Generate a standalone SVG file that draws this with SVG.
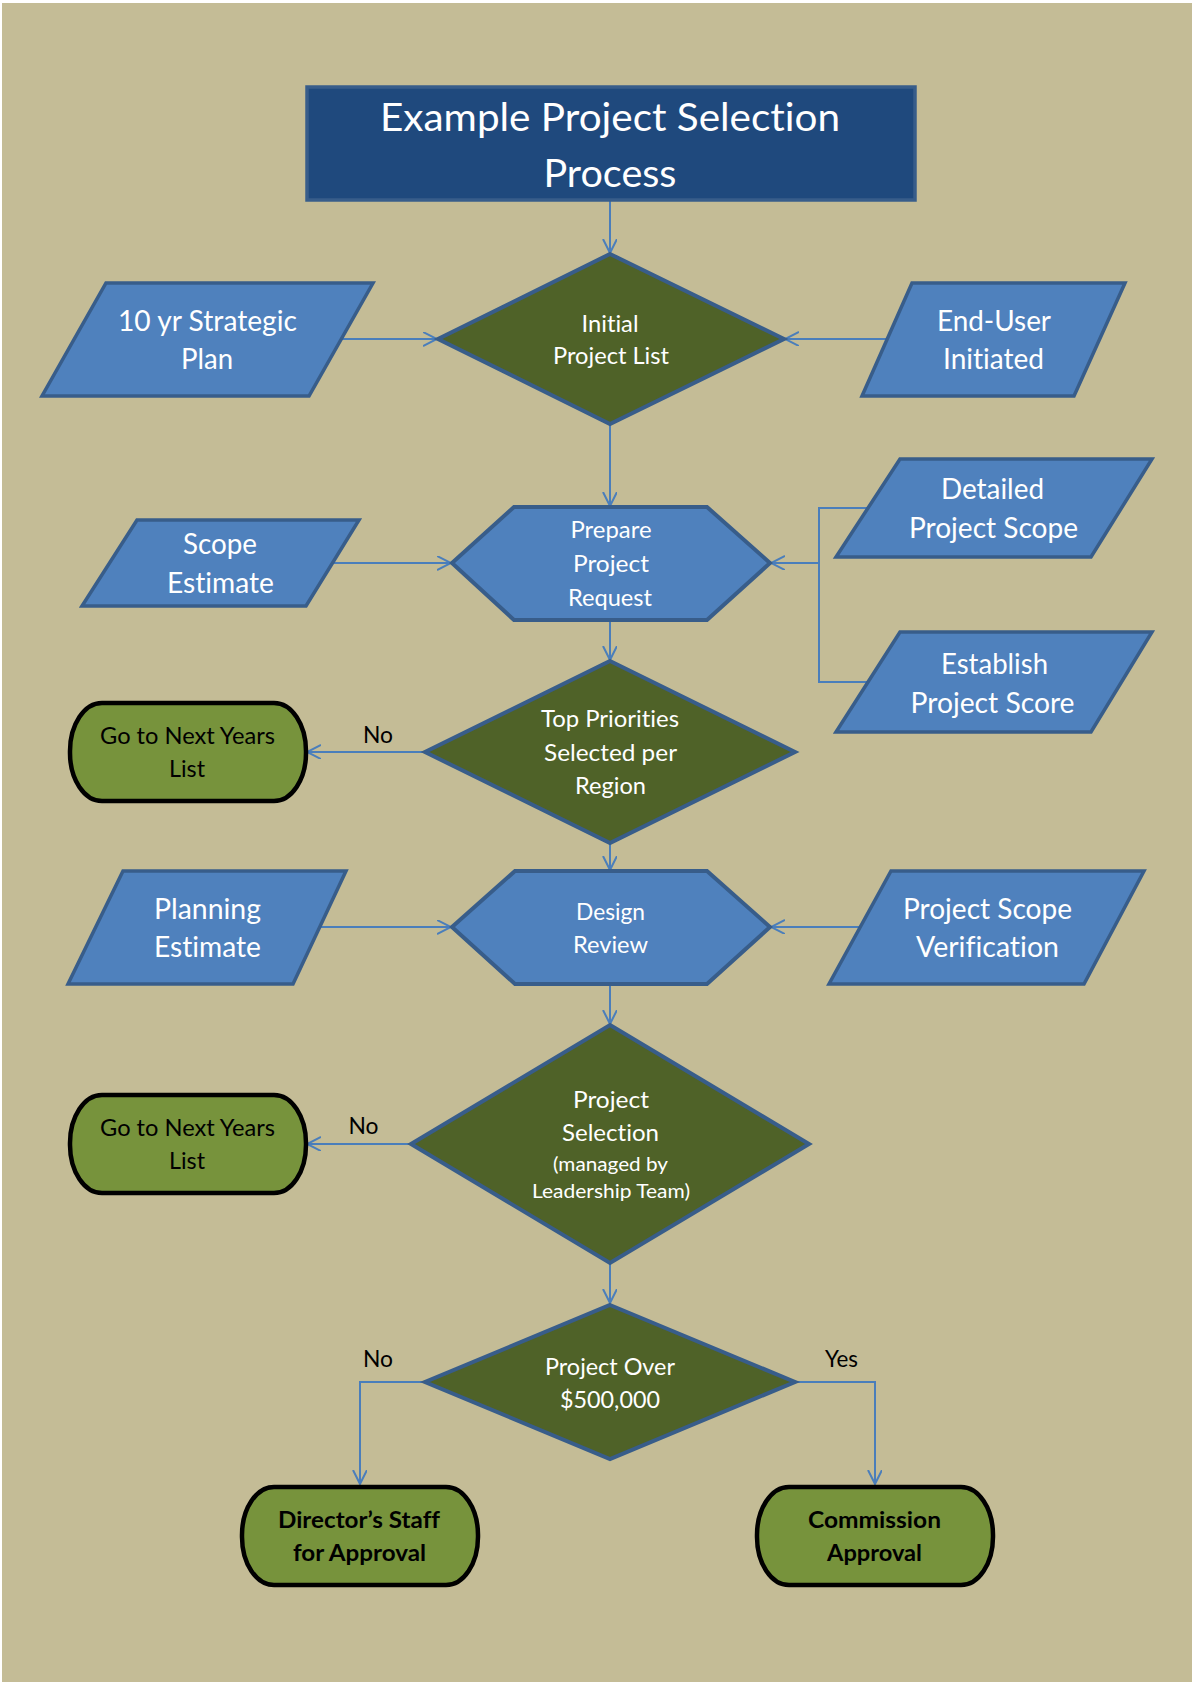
<svg xmlns="http://www.w3.org/2000/svg" width="1192" height="1682" viewBox="0 0 1192 1682">
<defs>
<style>
.io{fill:#4F81BD;stroke:#385D8A;stroke-width:3.5;stroke-linejoin:miter}
.dec{fill:#4F6228;stroke:#385D8A;stroke-width:4}
.hex{fill:#4F81BD;stroke:#385D8A;stroke-width:4}
.term{fill:#77933C;stroke:#000;stroke-width:4.5}
.c{fill:none;stroke:#4A7EBB;stroke-width:2}
text{font-family:Lato,"Open Sans","Liberation Sans",sans-serif;text-anchor:middle;font-variant-ligatures:none;font-feature-settings:"liga" 0,"clig" 0}
.w{fill:#fff}
.k{fill:#000}
.b{font-weight:bold}
</style>
<marker id="ah" markerUnits="userSpaceOnUse" markerWidth="16" markerHeight="16" refX="14" refY="7" orient="auto">
<path d="M0,0 L14,7 L0,14" fill="none" stroke="#4A7EBB" stroke-width="2"/>
</marker>
</defs>
<rect x="0" y="0" width="1192" height="1682" fill="#fff"/>
<rect x="2" y="3" width="1190" height="1679" fill="#C4BC96"/>

<g id="connectors">
<path class="c" d="M610,201 V253" marker-end="url(#ah)"/>
<path class="c" d="M341,339 H437" marker-end="url(#ah)"/>
<path class="c" d="M887,339 H785" marker-end="url(#ah)"/>
<path class="c" d="M610,424 V506" marker-end="url(#ah)"/>
<path class="c" d="M333,563 H451" marker-end="url(#ah)"/>
<path class="c" d="M868,508 H819 V682 H868"/>
<path class="c" d="M819,563 H771" marker-end="url(#ah)"/>
<path class="c" d="M610,620 V660" marker-end="url(#ah)"/>
<path class="c" d="M425,752 H307" marker-end="url(#ah)"/>
<path class="c" d="M610,843 V870" marker-end="url(#ah)"/>
<path class="c" d="M320,927 H451" marker-end="url(#ah)"/>
<path class="c" d="M860,927 H771" marker-end="url(#ah)"/>
<path class="c" d="M610,984 V1024" marker-end="url(#ah)"/>
<path class="c" d="M411,1144 H307" marker-end="url(#ah)"/>
<path class="c" d="M610,1263 V1303" marker-end="url(#ah)"/>
<path class="c" d="M425,1382 H360 V1484" marker-end="url(#ah)"/>
<path class="c" d="M795,1382 H875 V1484" marker-end="url(#ah)"/>
</g>

<g id="title">
<rect x="307" y="87" width="608" height="113" fill="#1F497D" stroke="#385D8A" stroke-width="3.5"/>
<text class="w" x="610" y="131" font-size="39" textLength="460" lengthAdjust="spacingAndGlyphs">Example Project Selection</text>
<text class="w" x="610" y="187" font-size="39" textLength="133" lengthAdjust="spacingAndGlyphs">Process</text>
</g>

<g id="initial-project-list">
<polygon class="dec" points="610,254 784,339 610,424 438,339"/>
<text class="w" x="610" y="332" font-size="22.5" textLength="57" lengthAdjust="spacingAndGlyphs">Initial</text>
<text class="w" x="611" y="364" font-size="22.5" textLength="116" lengthAdjust="spacingAndGlyphs">Project List</text>
</g>

<g id="strategic-plan">
<polygon class="io" points="106,283 373,283 309,396 42,396"/>
<text class="w" x="207.5" y="331" font-size="28" textLength="179" lengthAdjust="spacingAndGlyphs">10 yr Strategic</text>
<text class="w" x="207" y="369" font-size="28" textLength="52" lengthAdjust="spacingAndGlyphs">Plan</text>
</g>

<g id="end-user">
<polygon class="io" points="912,283 1125,283 1074,396 862,396"/>
<text class="w" x="994" y="331" font-size="28" textLength="114" lengthAdjust="spacingAndGlyphs">End-User</text>
<text class="w" x="993.5" y="369" font-size="28" textLength="101" lengthAdjust="spacingAndGlyphs">Initiated</text>
</g>

<g id="prepare-request">
<polygon class="hex" points="452,563 514,507 707,507 770,563 707,620 514,620"/>
<text class="w" x="611" y="538" font-size="22.5" textLength="81" lengthAdjust="spacingAndGlyphs">Prepare</text>
<text class="w" x="611" y="572" font-size="22.5" textLength="76" lengthAdjust="spacingAndGlyphs">Project</text>
<text class="w" x="610" y="606" font-size="22.5" textLength="84" lengthAdjust="spacingAndGlyphs">Request</text>
</g>

<g id="scope-estimate">
<polygon class="io" points="137,520 359,520 306,606 82,606"/>
<text class="w" x="220" y="554" font-size="28" textLength="74" lengthAdjust="spacingAndGlyphs">Scope</text>
<text class="w" x="220.5" y="593" font-size="28" textLength="107" lengthAdjust="spacingAndGlyphs">Estimate</text>
</g>

<g id="detailed-scope">
<polygon class="io" points="900,459 1152,459 1091,557 836,557"/>
<text class="w" x="992.5" y="499" font-size="28" textLength="103" lengthAdjust="spacingAndGlyphs">Detailed</text>
<text class="w" x="993.5" y="538" font-size="28" textLength="169" lengthAdjust="spacingAndGlyphs">Project Scope</text>
</g>

<g id="project-score">
<polygon class="io" points="900,632 1152,632 1091,732 836,732"/>
<text class="w" x="994.5" y="674" font-size="28" textLength="107" lengthAdjust="spacingAndGlyphs">Establish</text>
<text class="w" x="992.5" y="713" font-size="28" textLength="164" lengthAdjust="spacingAndGlyphs">Project Score</text>
</g>

<g id="top-priorities">
<polygon class="dec" points="610,661 795,752 610,843 425,752"/>
<text class="w" x="610" y="727" font-size="22.5" textLength="138" lengthAdjust="spacingAndGlyphs">Top Priorities</text>
<text class="w" x="610.5" y="761" font-size="22.5" textLength="133" lengthAdjust="spacingAndGlyphs">Selected per</text>
<text class="w" x="610.5" y="794" font-size="22.5" textLength="71" lengthAdjust="spacingAndGlyphs">Region</text>
</g>

<g id="next-years-1">
<rect class="term" x="70" y="703" width="236" height="98" rx="32" ry="48"/>
<text class="k" x="187.5" y="744" font-size="22.5" textLength="175" lengthAdjust="spacingAndGlyphs">Go to Next Years</text>
<text class="k" x="187" y="777" font-size="22.5" textLength="36" lengthAdjust="spacingAndGlyphs">List</text>
</g>
<text class="k" x="378" y="743" font-size="22.5" textLength="30" lengthAdjust="spacingAndGlyphs">No</text>

<g id="design-review">
<polygon class="hex" points="452,927 515,871 707,871 770,927 707,984 515,984"/>
<text class="w" x="610.5" y="920" font-size="22.5" textLength="69" lengthAdjust="spacingAndGlyphs">Design</text>
<text class="w" x="610.5" y="953" font-size="22.5" textLength="75" lengthAdjust="spacingAndGlyphs">Review</text>
</g>

<g id="planning-estimate">
<polygon class="io" points="123,871 346,871 293,984 68,984"/>
<text class="w" x="207.5" y="919" font-size="28" textLength="107" lengthAdjust="spacingAndGlyphs">Planning</text>
<text class="w" x="207.5" y="957" font-size="28" textLength="107" lengthAdjust="spacingAndGlyphs">Estimate</text>
</g>

<g id="scope-verification">
<polygon class="io" points="891,871 1144,871 1084,984 829,984"/>
<text class="w" x="987.5" y="919" font-size="28" textLength="169" lengthAdjust="spacingAndGlyphs">Project Scope</text>
<text class="w" x="987.5" y="957" font-size="28" textLength="143" lengthAdjust="spacingAndGlyphs">Verification</text>
</g>

<g id="project-selection">
<polygon class="dec" points="610,1025 809,1144 610,1263 411,1144"/>
<text class="w" x="611" y="1108" font-size="22.5" textLength="76" lengthAdjust="spacingAndGlyphs">Project</text>
<text class="w" x="610.5" y="1141" font-size="22.5" textLength="97" lengthAdjust="spacingAndGlyphs">Selection</text>
<text class="w" x="610.5" y="1171" font-size="18.5" textLength="115" lengthAdjust="spacingAndGlyphs">(managed by</text>
<text class="w" x="611" y="1198" font-size="18.5" textLength="158" lengthAdjust="spacingAndGlyphs">Leadership Team)</text>
</g>

<g id="next-years-2">
<rect class="term" x="70" y="1095" width="236" height="98" rx="32" ry="48"/>
<text class="k" x="187.5" y="1136" font-size="22.5" textLength="175" lengthAdjust="spacingAndGlyphs">Go to Next Years</text>
<text class="k" x="187" y="1169" font-size="22.5" textLength="36" lengthAdjust="spacingAndGlyphs">List</text>
</g>
<text class="k" x="363.5" y="1134" font-size="22.5" textLength="30" lengthAdjust="spacingAndGlyphs">No</text>

<g id="project-over">
<polygon class="dec" points="610,1305 795,1382 610,1459 425,1382"/>
<text class="w" x="610" y="1375" font-size="22.5" textLength="130" lengthAdjust="spacingAndGlyphs">Project Over</text>
<text class="w" x="610" y="1408" font-size="22.5" textLength="100" lengthAdjust="spacingAndGlyphs">$500,000</text>
</g>
<text class="k" x="378" y="1367" font-size="22.5" textLength="30" lengthAdjust="spacingAndGlyphs">No</text>
<text class="k" x="841.5" y="1367" font-size="22.5" textLength="33" lengthAdjust="spacingAndGlyphs">Yes</text>

<g id="directors-staff">
<rect class="term" x="242" y="1487" width="236" height="98" rx="32" ry="48"/>
<text class="k b" x="359" y="1528" font-size="22.5" textLength="162" lengthAdjust="spacingAndGlyphs">Director’s Staff</text>
<text class="k b" x="359.5" y="1561" font-size="22.5" textLength="133" lengthAdjust="spacingAndGlyphs">for Approval</text>
</g>

<g id="commission-approval">
<rect class="term" x="757" y="1487" width="236" height="98" rx="32" ry="48"/>
<text class="k b" x="874.5" y="1528" font-size="22.5" textLength="133" lengthAdjust="spacingAndGlyphs">Commission</text>
<text class="k b" x="874.5" y="1561" font-size="22.5" textLength="95" lengthAdjust="spacingAndGlyphs">Approval</text>
</g>
</svg>
